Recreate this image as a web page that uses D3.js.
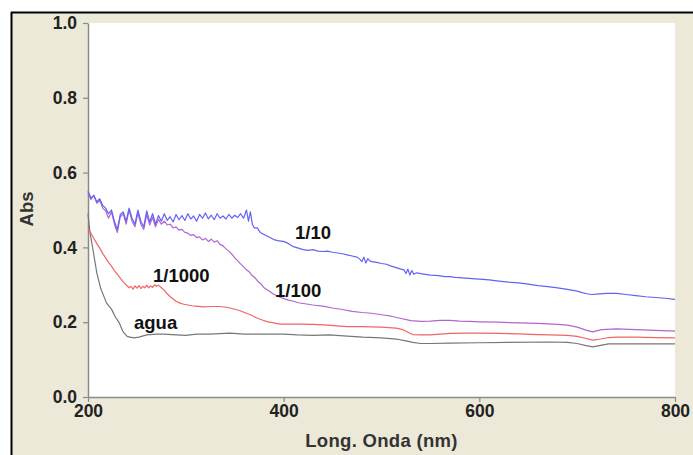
<!DOCTYPE html>
<html><head><meta charset="utf-8">
<script src="https://cdn.jsdelivr.net/npm/d3@7"></script>
<style>
body{margin:0;background:#fff;}
svg{display:block;}
text{font-family:"Liberation Sans",Arial,sans-serif;font-weight:bold;}
</style></head>
<body>
<svg id="c" width="693" height="455"></svg>
<script>
// ---- data ----
const xTicks = [200, 400, 600, 800];
const yTicks = [0.0, 0.2, 0.4, 0.6, 0.8, 1.0];
const seriesNames = ["1/10", "1/100", "1/1000", "agua"];

const blueNm = [200,203,206,209,212,215,218,221,224,227,230,233,236,239,242,245,248,251,254,257,260,263,266,269,272,275,278,281,284,287,290,293,296,299,302,305,308,311,314,317,320,323,326,329,332,335,338,341,344,347,350,353,356,359,362,364,366,368,370,373,376,379,382,385,388,391,394,397,400,405,410,415,420,425,430,435,440,445,450,455,460,465,470,475,478,480,482,484,486,488,490,495,500,505,510,515,520,523,525,527,529,531,533,536,540,545,550,555,560,565,570,575,580,585,590,595,600,610,620,630,640,650,660,670,680,690,700,705,710,715,720,730,740,750,760,770,780,790,800];
const blueAbs = [0.550,0.532,0.538,0.522,0.530,0.512,0.505,0.490,0.500,0.470,0.448,0.488,0.495,0.470,0.505,0.478,0.462,0.500,0.470,0.455,0.498,0.468,0.490,0.462,0.485,0.470,0.490,0.472,0.482,0.468,0.488,0.474,0.485,0.472,0.490,0.476,0.484,0.470,0.488,0.478,0.492,0.476,0.486,0.474,0.490,0.478,0.484,0.476,0.488,0.478,0.486,0.480,0.490,0.478,0.500,0.470,0.495,0.462,0.452,0.452,0.440,0.436,0.432,0.428,0.424,0.420,0.418,0.417,0.416,0.410,0.402,0.398,0.394,0.392,0.394,0.390,0.389,0.390,0.387,0.385,0.383,0.380,0.377,0.374,0.368,0.362,0.374,0.358,0.370,0.364,0.362,0.360,0.357,0.355,0.350,0.346,0.342,0.340,0.330,0.342,0.326,0.338,0.328,0.332,0.330,0.328,0.326,0.325,0.324,0.322,0.322,0.320,0.319,0.318,0.317,0.316,0.315,0.313,0.310,0.307,0.305,0.302,0.298,0.295,0.292,0.288,0.283,0.279,0.276,0.274,0.275,0.277,0.277,0.274,0.271,0.268,0.266,0.264,0.261];

const purpleNm = [200,203,206,209,212,215,218,221,224,227,230,233,236,239,242,245,248,251,254,257,260,263,266,269,272,275,278,281,284,287,290,293,296,299,302,305,308,311,314,317,320,323,326,329,332,335,338,341,344,347,350,353,356,359,362,365,368,371,374,377,380,383,386,389,392,395,400,405,410,415,420,430,440,450,460,470,480,490,500,510,520,530,540,550,560,570,580,590,600,620,640,660,680,690,700,710,716,725,740,760,780,800];
const purpleAbs = [0.545,0.528,0.540,0.518,0.526,0.505,0.498,0.478,0.495,0.462,0.440,0.482,0.490,0.462,0.500,0.470,0.455,0.492,0.462,0.448,0.488,0.460,0.480,0.455,0.475,0.462,0.470,0.460,0.462,0.452,0.455,0.446,0.448,0.440,0.438,0.432,0.434,0.426,0.428,0.420,0.424,0.416,0.422,0.414,0.418,0.408,0.404,0.396,0.390,0.382,0.372,0.364,0.356,0.348,0.340,0.334,0.324,0.318,0.308,0.302,0.292,0.287,0.282,0.276,0.272,0.268,0.263,0.259,0.256,0.252,0.250,0.246,0.243,0.238,0.234,0.229,0.226,0.224,0.220,0.216,0.210,0.204,0.202,0.203,0.205,0.205,0.203,0.202,0.201,0.200,0.198,0.197,0.194,0.192,0.187,0.178,0.174,0.180,0.182,0.180,0.178,0.176];

const redNm = [200,203,206,209,212,215,218,221,224,227,230,233,236,239,242,244,246,248,250,252,254,256,258,260,262,264,266,268,270,272,275,278,281,284,287,290,294,298,302,306,310,318,326,335,342,348,354,360,366,372,378,384,390,396,405,417,430,445,465,480,500,515,522,528,532,540,550,560,570,585,600,620,640,660,672,690,700,708,716,724,732,741,760,780,800];
const redAbs = [0.450,0.438,0.424,0.410,0.398,0.384,0.372,0.360,0.350,0.338,0.328,0.318,0.308,0.300,0.292,0.296,0.288,0.297,0.291,0.298,0.290,0.296,0.292,0.299,0.292,0.297,0.293,0.300,0.296,0.299,0.292,0.285,0.276,0.268,0.262,0.256,0.251,0.248,0.246,0.244,0.243,0.241,0.242,0.242,0.240,0.236,0.232,0.226,0.220,0.212,0.206,0.201,0.198,0.195,0.195,0.195,0.194,0.192,0.188,0.188,0.187,0.184,0.180,0.172,0.167,0.166,0.166,0.168,0.170,0.171,0.171,0.170,0.169,0.167,0.166,0.165,0.162,0.157,0.152,0.155,0.159,0.160,0.160,0.159,0.158];

const grayNm = [200,202,205,209,213,219,224,228,232,236,240,243,247,252,260,270,277,290,300,311,325,345,360,379,400,414,430,447,465,481,500,515,525,532,540,550,570,600,630,672,690,700,708,716,724,732,741,770,800];
const grayAbs = [0.490,0.440,0.395,0.332,0.290,0.251,0.235,0.214,0.198,0.174,0.162,0.160,0.158,0.160,0.166,0.168,0.168,0.166,0.165,0.168,0.168,0.171,0.168,0.168,0.168,0.166,0.165,0.166,0.163,0.160,0.158,0.155,0.150,0.146,0.143,0.143,0.144,0.145,0.146,0.147,0.146,0.143,0.138,0.134,0.138,0.142,0.142,0.142,0.142];

// ---- drawing ----
const svg = d3.select("#c");
const W = 693, H = 455;
const m = {left: 88, right: 675, top: 23, bottom: 397};

svg.append("rect").attr("x",0).attr("y",0).attr("width",W).attr("height",H).attr("fill","#fff");
svg.append("rect").attr("x",12).attr("y",13).attr("width",W-12).attr("height",H-13).attr("fill","#ECE9D8");
svg.append("line").attr("x1",11).attr("x2",W).attr("y1",12.5).attr("y2",12.5).attr("stroke","#000").attr("stroke-width",2);
svg.append("line").attr("x1",11.5).attr("x2",11.5).attr("y1",12).attr("y2",H).attr("stroke","#000").attr("stroke-width",2);

svg.append("rect").attr("x",m.left).attr("y",m.top).attr("width",m.right-m.left).attr("height",m.bottom-m.top).attr("fill","#fff");

const x = d3.scaleLinear().domain([200,800]).range([m.left,m.right]);
const y = d3.scaleLinear().domain([0,1]).range([m.bottom,m.top]);

const xAxis = svg.append("g").attr("transform",`translate(0,${m.bottom})`)
  .call(d3.axisBottom(x).tickValues(xTicks).tickFormat(d3.format("d")).tickSize(5).tickSizeOuter(0));
const yAxis = svg.append("g").attr("transform",`translate(${m.left},0)`)
  .call(d3.axisLeft(y).tickValues(yTicks).tickFormat(d3.format(".1f")).tickSize(5).tickSizeOuter(0));
[xAxis,yAxis].forEach(a=>{
  a.selectAll("path").attr("stroke","#8a8a8a").attr("stroke-width",1.5);
  a.selectAll("line").attr("stroke","#8a8a8a").attr("stroke-width",1.2);
  a.selectAll("text").attr("fill","#222").style("font-size","17.5px").style("font-weight","bold");
});
xAxis.selectAll("text").attr("y",8).attr("dy","0.71em");
yAxis.selectAll("text").attr("x",-11);

svg.append("text").attr("x",(m.left+m.right)/2).attr("y",447).attr("text-anchor","middle")
  .attr("fill","#333").style("font-size","18.5px").style("letter-spacing","0.3px").text("Long. Onda (nm)");
svg.append("text").attr("transform","translate(33,209) rotate(-90)").attr("text-anchor","middle")
  .attr("fill","#333").style("font-size","18.5px").text("Abs");

const line = d3.line().x(d=>x(d[0])).y(d=>y(d[1]));
const series = [
  {nm: grayNm, abs: grayAbs, color: "#777777"},
  {nm: redNm, abs: redAbs, color: "#EE6666"},
  {nm: purpleNm, abs: purpleAbs, color: "#B066D0"},
  {nm: blueNm, abs: blueAbs, color: "#6262F5"}
];
series.forEach(s=>{
  svg.append("path").datum(s.nm.map((v,i)=>[v,s.abs[i]]))
    .attr("d",line).attr("fill","none").attr("stroke",s.color).attr("stroke-width",1.2)
    .attr("stroke-linejoin","round");
});

const labelPos = [[295,239],[275,297],[153,282],[134,329]];
seriesNames.forEach((n,i)=>{
  svg.append("text").attr("x",labelPos[i][0]).attr("y",labelPos[i][1])
    .attr("fill","#111").style("font-size","18.5px").text(n);
});
</script>
</body></html>
